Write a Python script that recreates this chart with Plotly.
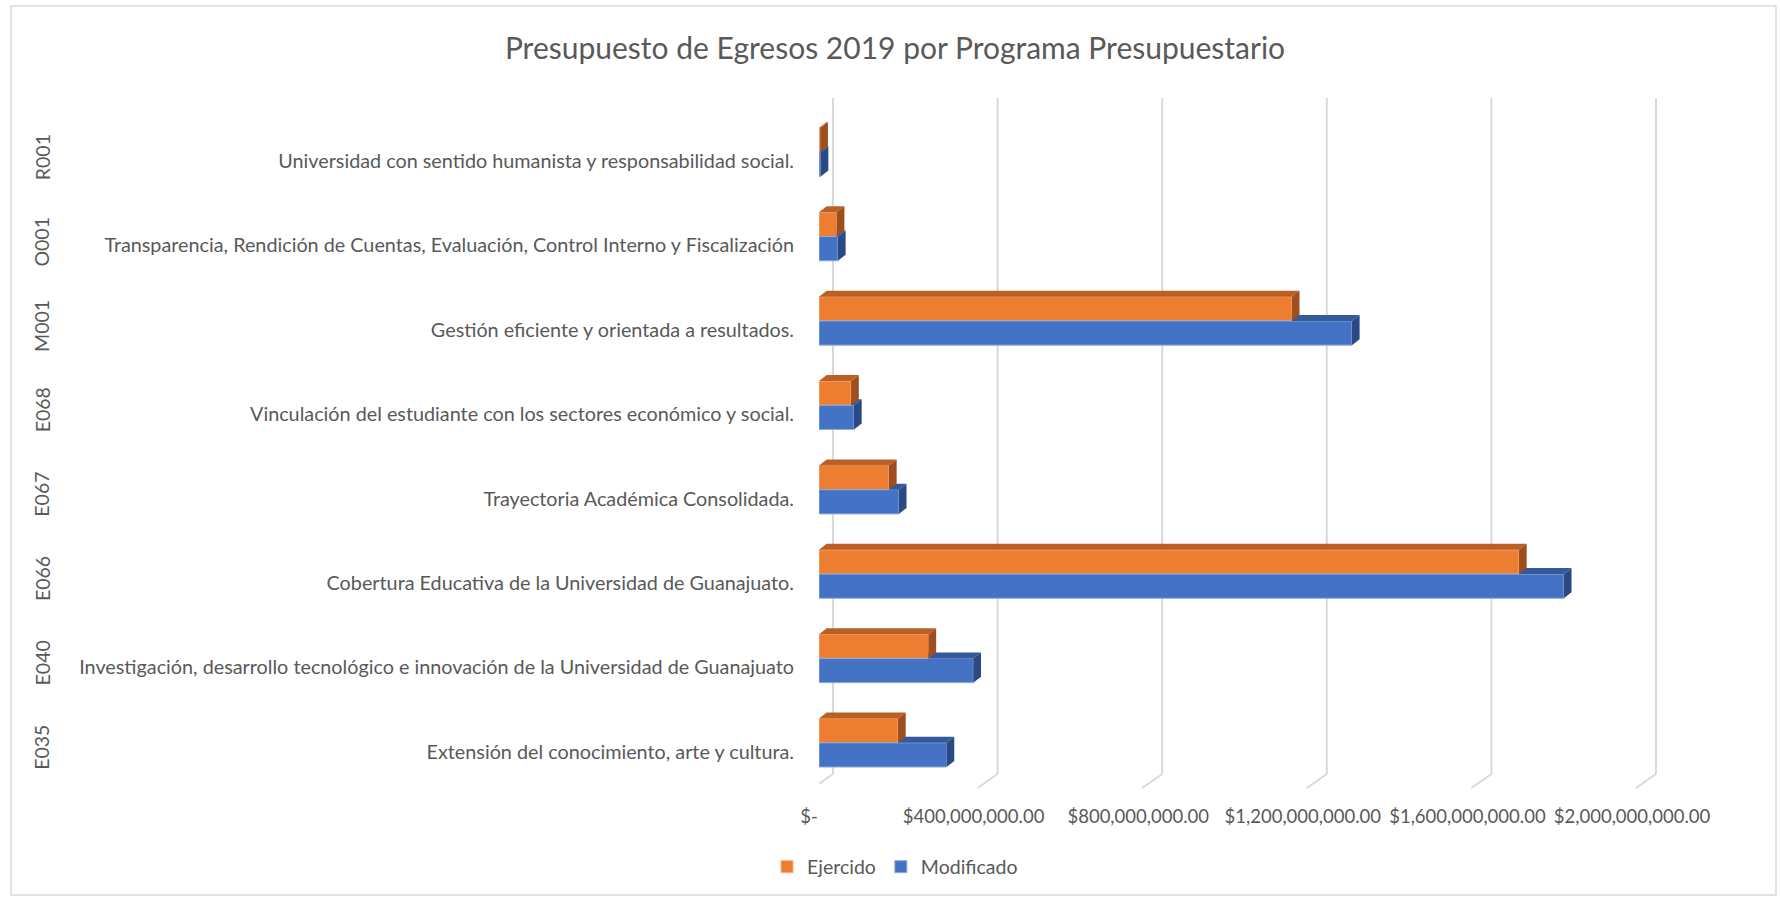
import plotly.graph_objects as go

codes = ["E035", "E040", "E066", "E067", "E068", "M001", "O001", "R001"]
programas = [
    "Extensión del conocimiento, arte y cultura.",
    "Investigación, desarrollo tecnológico e innovación de la Universidad de Guanajuato",
    "Cobertura Educativa de la Universidad de Guanajuato.",
    "Trayectoria Académica Consolidada.",
    "Vinculación del estudiante con los sectores económico y social.",
    "Gestión eficiente y orientada a resultados.",
    "Transparencia, Rendición de Cuentas, Evaluación, Control Interno y Fiscalización",
    "Universidad con sentido humanista y responsabilidad social.",
]
ejercido = [192e6, 266e6, 1701e6, 170e6, 78e6, 1149e6, 43e6, 3e6]
modificado = [310e6, 375e6, 1810e6, 194e6, 85e6, 1295e6, 46e6, 4e6]
tick_vals = [0, 400e6, 800e6, 1200e6, 1600e6, 2000e6]
tick_text = ["$-", "$400,000,000.00", "$800,000,000.00", "$1,200,000,000.00",
             "$1,600,000,000.00", "$2,000,000,000.00"]

W, H = 1780, 898
L, R, T, B = 819, 120, 110, 113
XMAX = 2.0437e9
FONT = "Lato"
GRAY = "#595959"

C_OR, C_OR_TOP, C_OR_SIDE = "#ED7D31", "#BC5F24", "#9E4F1D"
C_BL, C_BL_TOP, C_BL_SIDE = "#4472C4", "#36599A", "#2B4A84"

h = 0.287            # bar thickness (category units)
plot_w = W - L - R
plot_h = H - T - B
dx = 7.7 / plot_w * XMAX   # depth offset in data units
dy = 6.0 / (plot_h / 8.0)

ypos = list(range(len(codes)))


def clip_x_ge(poly, xc):
    out = []
    n = len(poly)
    for i in range(n):
        p, q = poly[i], poly[(i + 1) % n]
        pin, qin = p[0] >= xc, q[0] >= xc
        if pin:
            out.append(p)
        if pin != qin:
            t = (xc - p[0]) / (q[0] - p[0])
            out.append((xc, p[1] + t * (q[1] - p[1])))
    return out


def add_poly(xs, ys, poly):
    if not poly:
        return
    for (px, py) in poly:
        xs.append(px)
        ys.append(py)
    xs.append(poly[0][0])
    ys.append(poly[0][1])
    xs.append(None)
    ys.append(None)


bl_top_x, bl_top_y, bl_side_x, bl_side_y = [], [], [], []
or_top_x, or_top_y, or_side_x, or_side_y = [], [], [], []
for y, ve, vb in zip(ypos, ejercido, modificado):
    yt = y
    top = [(0, yt), (vb, yt), (vb + dx, yt + dy), (dx, yt + dy)]
    add_poly(bl_top_x, bl_top_y, clip_x_ge(top, ve))
    side = [(vb, yt - h), (vb, yt), (vb + dx, yt + dy), (vb + dx, yt - h + dy)]
    add_poly(bl_side_x, bl_side_y, side)
    yt2 = y + h
    top2 = [(0, yt2), (ve, yt2), (ve + dx, yt2 + dy), (dx, yt2 + dy)]
    add_poly(or_top_x, or_top_y, top2)
    side2 = [(ve, y), (ve, yt2), (ve + dx, yt2 + dy), (ve + dx, y + dy)]
    add_poly(or_side_x, or_side_y, side2)

fig = go.Figure()
fig.add_trace(go.Bar(
    name="Ejercido", x=ejercido, y=ypos, orientation="h",
    offset=0, width=h, marker=dict(color=C_OR, line=dict(color="#F4B183", width=1)),
))
fig.add_trace(go.Bar(
    name="Modificado", x=modificado, y=ypos, orientation="h",
    offset=-h, width=h, marker=dict(color=C_BL, line=dict(color="#8FAADC", width=1)),
))
for xs, ys, col in [(bl_top_x, bl_top_y, C_BL_TOP), (bl_side_x, bl_side_y, C_BL_SIDE),
                    (or_top_x, or_top_y, C_OR_TOP), (or_side_x, or_side_y, C_OR_SIDE)]:
    fig.add_trace(go.Scatter(
        x=xs, y=ys, mode="lines", fill="toself", fillcolor=col,
        line=dict(width=0, color=col), showlegend=False, hoverinfo="skip",
    ))

shapes = []
for tv in tick_vals:
    shapes.append(dict(type="line", xref="x", yref="paper", xsizemode="pixel", xanchor=tv,
                       x0=14, x1=14, y0=(H - B - 774) / plot_h, y1=(H - B - 98) / plot_h,
                       line=dict(color="#D9D9D9", width=2), layer="below"))
    shapes.append(dict(type="line", xref="x", yref="paper", xsizemode="pixel", xanchor=tv,
                       ysizemode="pixel", yanchor=0, x0=-6, x1=14, y0=-3, y1=11,
                       line=dict(color="#D9D9D9", width=2), layer="below"))
shapes.append(dict(type="rect", xref="paper", yref="paper",
                   x0=(11 - L) / plot_w, x1=(1776 - L) / plot_w,
                   y0=(H - B - 895) / plot_h, y1=(H - B - 6) / plot_h,
                   line=dict(color="#D9D9D9", width=1.5), layer="below"))

annotations = []
for y, c in zip(ypos, codes):
    annotations.append(dict(
        text=c, xref="paper", yref="y", x=0, y=y, xshift=42 - L, yshift=-5,
        xanchor="center", yanchor="middle", textangle=-90, showarrow=False,
        font=dict(family=FONT, size=19.5, color=GRAY),
    ))

fig.update_layout(
    width=W, height=H,
    margin=dict(l=L, r=R, t=T, b=B),
    paper_bgcolor="white", plot_bgcolor="white",
    barmode="overlay",
    font=dict(family=FONT, size=19, color=GRAY),
    title=dict(text="Presupuesto de Egresos 2019 por Programa Presupuestario",
               x=895 / W, xanchor="center", y=1 - 48 / H, yanchor="middle",
               yref="container", font=dict(family=FONT, size=30, color=GRAY)),
    xaxis=dict(range=[0, XMAX], tickvals=tick_vals, ticktext=tick_text, showgrid=False,
               zeroline=False, showline=False, ticks="", ticklabelstandoff=18,
               ticklabelshift=-10, tickfont=dict(family=FONT, size=18.5, color=GRAY)),
    yaxis=dict(range=[-0.5, 7.5], tickvals=ypos, ticktext=programas, showgrid=False,
               zeroline=False, showline=False, ticks="", ticklabelstandoff=24,
               ticklabelshift=9, tickfont=dict(family=FONT, size=19.8, color=GRAY)),
    legend=dict(orientation="h", x=(895 - L) / plot_w, xanchor="center",
                y=(H - B - 867) / plot_h, yanchor="middle",
                font=dict(family=FONT, size=19.5, color=GRAY), itemwidth=30),
    shapes=shapes, annotations=annotations,
    showlegend=True,
)

fig.write_html("out.html", config={"displayModeBar": False},
               post_script="document.body.style.margin='0';")
